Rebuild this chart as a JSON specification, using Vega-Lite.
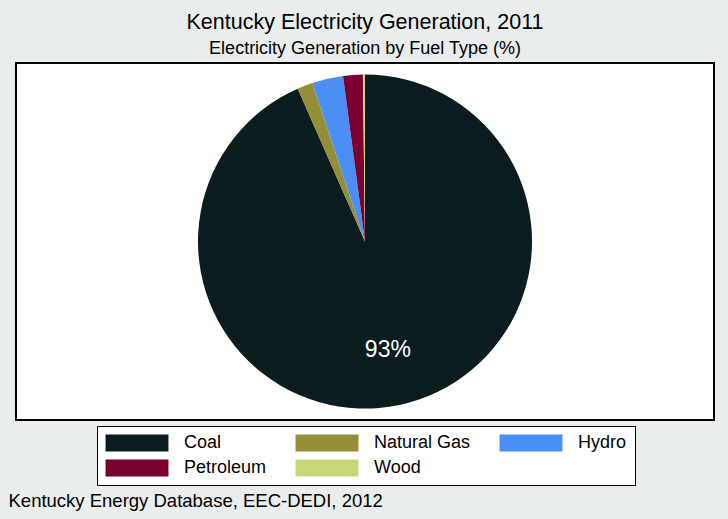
{
  "$schema": "https://vega.github.io/schema/vega-lite/v6.json",
  "width": 698,
  "height": 357,
  "autosize": {"type": "none"},
  "padding": {"left": 16, "top": 63, "right": 14, "bottom": 99},
  "background": "#e9eded",
  "config": {
    "view": {"fill": "white", "stroke": "black", "strokeWidth": 2},
    "font": "Liberation Sans"
  },
  "title": {
    "text": "Kentucky Electricity Generation, 2011",
    "subtitle": "Electricity Generation by Fuel Type (%)",
    "fontSize": 21.5,
    "fontWeight": "normal",
    "font": "Liberation Sans",
    "subtitleFont": "Liberation Sans",
    "subtitleFontSize": 18,
    "subtitlePadding": 7,
    "color": "black",
    "subtitleColor": "black",
    "anchor": "middle",
    "offset": 5
  },
  "data": {
    "values": [
      {"fuel": "Coal", "pct": 93.4, "ord": 1, "lbl": "93%"},
      {"fuel": "Natural Gas", "pct": 1.5, "ord": 2, "lbl": ""},
      {"fuel": "Hydro", "pct": 3.0, "ord": 3, "lbl": ""},
      {"fuel": "Petroleum", "pct": 1.9, "ord": 4, "lbl": ""},
      {"fuel": "Wood", "pct": 0.2, "ord": 5, "lbl": ""}
    ]
  },
  "layer": [
    {
      "mark": {"type": "arc", "outerRadius": 167},
      "encoding": {
        "theta": {"field": "pct", "type": "quantitative", "stack": true},
        "order": {"field": "ord", "type": "quantitative"},
        "color": {
          "field": "fuel",
          "type": "nominal",
          "scale": {
            "domain": ["Coal", "Natural Gas", "Hydro", "Petroleum", "Wood"],
            "range": ["#0b1c1f", "#948f36", "#4b8ff5", "#7a0030", "#c8d77a"]
          },
          "legend": {
            "title": null,
            "orient": "none",
            "legendX": 81,
            "legendY": 363,
            "direction": "horizontal",
            "columns": 3,
            "gridAlign": "each",
            "symbolType": "M-3.7,-1H3.7V1H-3.7Z",
            "symbolSize": 289,
            "symbolOffset": 23,
            "symbolStrokeWidth": 0,
            "symbolOpacity": 1,
            "labelFontSize": 18,
            "labelFont": "Liberation Sans",
            "labelColor": "black",
            "labelOffset": 38,
            "columnPadding": 28,
            "rowPadding": 7,
            "padding": 8,
            "strokeColor": "black",
            "fillColor": "white"
          }
        }
      }
    },
    {
      "mark": {"type": "text", "radius": 111, "color": "white", "fontSize": 23, "font": "Liberation Sans"},
      "encoding": {
        "theta": {"field": "pct", "type": "quantitative", "stack": true},
        "order": {"field": "ord", "type": "quantitative"},
        "text": {"field": "lbl", "type": "nominal"}
      }
    },
    {
      "mark": {"type": "rule", "opacity": 0},
      "encoding": {
        "x": {
          "datum": 0,
          "type": "quantitative",
          "axis": {
            "title": "Kentucky Energy Database, EEC-DEDI, 2012",
            "labels": false,
            "ticks": false,
            "domain": false,
            "grid": false,
            "titleFont": "Liberation Sans",
            "titleFontSize": 18.5,
            "titleFontWeight": "normal",
            "titleColor": "black",
            "titleAnchor": "start",
            "titleAlign": "left",
            "titleBaseline": "middle",
            "titleX": -8,
            "titleY": 80
          }
        }
      }
    }
  ]
}
